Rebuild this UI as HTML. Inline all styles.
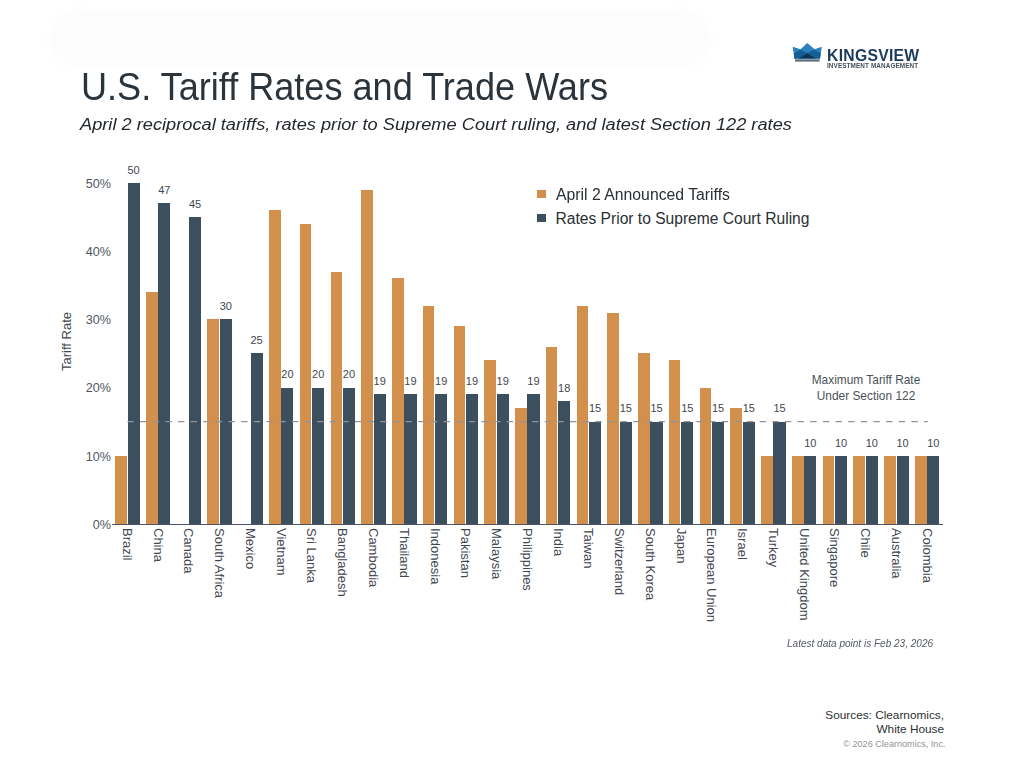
<!DOCTYPE html>
<html><head><meta charset="utf-8">
<style>
html,body{margin:0;padding:0;background:#fff;}
body{width:1024px;height:768px;position:relative;overflow:hidden;font-family:"Liberation Sans",sans-serif;}
.t{position:absolute;white-space:nowrap;line-height:1;transform-origin:0 0;}
.bar{position:absolute;}
</style></head><body>

<div style="position:absolute;left:49px;top:9px;width:662px;height:59px;background:#f9f9f9;border-radius:30px;filter:blur(3px);opacity:0.45"></div>
<div class="t" id="title" style="left:80.5px;top:67.5px;font-size:38px;color:#2b333b;transform:scaleX(0.95)">U.S. Tariff Rates and Trade Wars</div>
<div class="t" id="sub" style="left:79.5px;top:116px;font-size:17.2px;font-style:italic;color:#22282d;transform:scaleX(1.06)">April 2 reciprocal tariffs, rates prior to Supreme Court ruling, and latest Section 122 rates</div>
<svg style="position:absolute;left:788px;top:38px" width="40" height="28" viewBox="0 0 40 28">
<polygon points="4.7,8.8 12.5,11.3 19.3,5.1 26.6,11.3 33.8,8.8 32,20.7 6.4,20.7" fill="#2c80c2"/>
<polygon points="5.9,15.2 12.5,11.7 19.3,15.0 25.8,11.7 32.8,15.2 32,20.7 6.4,20.7" fill="#175e95"/>
<polygon points="19.3,15.2 28.1,20.7 10.5,20.7" fill="#0e3457"/>
<rect x="7" y="20.7" width="24.6" height="1.1" fill="#86a3b8"/>
<rect x="7" y="21.7" width="24.6" height="1.9" fill="#5f6e7c"/>
</svg>
<div class="t" style="left:826.8px;top:47px;font-size:17px;font-weight:bold;color:#1b3a5c;letter-spacing:0.3px;transform:scaleX(0.925)">KINGSVIEW</div>
<div class="t" style="left:826.8px;top:63.3px;font-size:6.6px;font-weight:bold;color:#444e59;letter-spacing:0.1px;transform:scaleX(0.967)">INVESTMENT MANAGEMENT</div>
<div class="t" style="right:913px;top:518.7px;font-size:12.6px;color:#4f5861">0%</div>
<div class="t" style="right:913px;top:450.5px;font-size:12.6px;color:#4f5861">10%</div>
<div class="t" style="right:913px;top:382.3px;font-size:12.6px;color:#4f5861">20%</div>
<div class="t" style="right:913px;top:314.0px;font-size:12.6px;color:#4f5861">30%</div>
<div class="t" style="right:913px;top:245.8px;font-size:12.6px;color:#4f5861">40%</div>
<div class="t" style="right:913px;top:177.6px;font-size:12.6px;color:#4f5861">50%</div>
<div class="t" style="left:59.5px;top:371px;font-size:13px;color:#3f474f;transform:rotate(-90deg)">Tariff Rate</div>
<div class="bar" style="left:115.20px;top:455.78px;width:11.60px;height:68.22px;background:#d3904d"></div>
<div class="bar" style="left:127.50px;top:182.90px;width:12.20px;height:341.10px;background:#3c4f5e"></div>
<div class="t" style="left:118.60px;width:30px;text-align:center;top:164.70px;font-size:11px;color:#3f474f">50</div>
<div class="t" style="left:133.90px;top:527.5px;font-size:13px;color:#3f474f;transform:rotate(90deg)">Brazil</div>
<div class="bar" style="left:145.96px;top:292.05px;width:11.60px;height:231.95px;background:#d3904d"></div>
<div class="bar" style="left:158.26px;top:203.37px;width:12.20px;height:320.63px;background:#3c4f5e"></div>
<div class="t" style="left:149.36px;width:30px;text-align:center;top:185.17px;font-size:11px;color:#3f474f">47</div>
<div class="t" style="left:164.66px;top:527.5px;font-size:13px;color:#3f474f;transform:rotate(90deg)">China</div>
<div class="bar" style="left:189.02px;top:217.01px;width:12.20px;height:306.99px;background:#3c4f5e"></div>
<div class="t" style="left:180.12px;width:30px;text-align:center;top:198.81px;font-size:11px;color:#3f474f">45</div>
<div class="t" style="left:195.42px;top:527.5px;font-size:13px;color:#3f474f;transform:rotate(90deg)">Canada</div>
<div class="bar" style="left:207.48px;top:319.34px;width:11.60px;height:204.66px;background:#d3904d"></div>
<div class="bar" style="left:219.78px;top:319.34px;width:12.20px;height:204.66px;background:#3c4f5e"></div>
<div class="t" style="left:210.88px;width:30px;text-align:center;top:301.14px;font-size:11px;color:#3f474f">30</div>
<div class="t" style="left:226.18px;top:527.5px;font-size:13px;color:#3f474f;transform:rotate(90deg)">South Africa</div>
<div class="bar" style="left:250.54px;top:353.45px;width:12.20px;height:170.55px;background:#3c4f5e"></div>
<div class="t" style="left:241.64px;width:30px;text-align:center;top:335.25px;font-size:11px;color:#3f474f">25</div>
<div class="t" style="left:256.94px;top:527.5px;font-size:13px;color:#3f474f;transform:rotate(90deg)">Mexico</div>
<div class="bar" style="left:269.00px;top:210.19px;width:11.60px;height:313.81px;background:#d3904d"></div>
<div class="bar" style="left:281.30px;top:387.56px;width:12.20px;height:136.44px;background:#3c4f5e"></div>
<div class="t" style="left:272.40px;width:30px;text-align:center;top:369.36px;font-size:11px;color:#3f474f">20</div>
<div class="t" style="left:287.70px;top:527.5px;font-size:13px;color:#3f474f;transform:rotate(90deg)">Vietnam</div>
<div class="bar" style="left:299.76px;top:223.83px;width:11.60px;height:300.17px;background:#d3904d"></div>
<div class="bar" style="left:312.06px;top:387.56px;width:12.20px;height:136.44px;background:#3c4f5e"></div>
<div class="t" style="left:303.16px;width:30px;text-align:center;top:369.36px;font-size:11px;color:#3f474f">20</div>
<div class="t" style="left:318.46px;top:527.5px;font-size:13px;color:#3f474f;transform:rotate(90deg)">Sri Lanka</div>
<div class="bar" style="left:330.52px;top:271.59px;width:11.60px;height:252.41px;background:#d3904d"></div>
<div class="bar" style="left:342.82px;top:387.56px;width:12.20px;height:136.44px;background:#3c4f5e"></div>
<div class="t" style="left:333.92px;width:30px;text-align:center;top:369.36px;font-size:11px;color:#3f474f">20</div>
<div class="t" style="left:349.22px;top:527.5px;font-size:13px;color:#3f474f;transform:rotate(90deg)">Bangladesh</div>
<div class="bar" style="left:361.28px;top:189.72px;width:11.60px;height:334.28px;background:#d3904d"></div>
<div class="bar" style="left:373.58px;top:394.38px;width:12.20px;height:129.62px;background:#3c4f5e"></div>
<div class="t" style="left:364.68px;width:30px;text-align:center;top:376.18px;font-size:11px;color:#3f474f">19</div>
<div class="t" style="left:379.98px;top:527.5px;font-size:13px;color:#3f474f;transform:rotate(90deg)">Cambodia</div>
<div class="bar" style="left:392.04px;top:278.41px;width:11.60px;height:245.59px;background:#d3904d"></div>
<div class="bar" style="left:404.34px;top:394.38px;width:12.20px;height:129.62px;background:#3c4f5e"></div>
<div class="t" style="left:395.44px;width:30px;text-align:center;top:376.18px;font-size:11px;color:#3f474f">19</div>
<div class="t" style="left:410.74px;top:527.5px;font-size:13px;color:#3f474f;transform:rotate(90deg)">Thailand</div>
<div class="bar" style="left:422.80px;top:305.70px;width:11.60px;height:218.30px;background:#d3904d"></div>
<div class="bar" style="left:435.10px;top:394.38px;width:12.20px;height:129.62px;background:#3c4f5e"></div>
<div class="t" style="left:426.20px;width:30px;text-align:center;top:376.18px;font-size:11px;color:#3f474f">19</div>
<div class="t" style="left:441.50px;top:527.5px;font-size:13px;color:#3f474f;transform:rotate(90deg)">Indonesia</div>
<div class="bar" style="left:453.56px;top:326.16px;width:11.60px;height:197.84px;background:#d3904d"></div>
<div class="bar" style="left:465.86px;top:394.38px;width:12.20px;height:129.62px;background:#3c4f5e"></div>
<div class="t" style="left:456.96px;width:30px;text-align:center;top:376.18px;font-size:11px;color:#3f474f">19</div>
<div class="t" style="left:472.26px;top:527.5px;font-size:13px;color:#3f474f;transform:rotate(90deg)">Pakistan</div>
<div class="bar" style="left:484.32px;top:360.27px;width:11.60px;height:163.73px;background:#d3904d"></div>
<div class="bar" style="left:496.62px;top:394.38px;width:12.20px;height:129.62px;background:#3c4f5e"></div>
<div class="t" style="left:487.72px;width:30px;text-align:center;top:376.18px;font-size:11px;color:#3f474f">19</div>
<div class="t" style="left:503.02px;top:527.5px;font-size:13px;color:#3f474f;transform:rotate(90deg)">Malaysia</div>
<div class="bar" style="left:515.08px;top:408.03px;width:11.60px;height:115.97px;background:#d3904d"></div>
<div class="bar" style="left:527.38px;top:394.38px;width:12.20px;height:129.62px;background:#3c4f5e"></div>
<div class="t" style="left:518.48px;width:30px;text-align:center;top:376.18px;font-size:11px;color:#3f474f">19</div>
<div class="t" style="left:533.78px;top:527.5px;font-size:13px;color:#3f474f;transform:rotate(90deg)">Philippines</div>
<div class="bar" style="left:545.84px;top:346.63px;width:11.60px;height:177.37px;background:#d3904d"></div>
<div class="bar" style="left:558.14px;top:401.20px;width:12.20px;height:122.80px;background:#3c4f5e"></div>
<div class="t" style="left:549.24px;width:30px;text-align:center;top:383.00px;font-size:11px;color:#3f474f">18</div>
<div class="t" style="left:564.54px;top:527.5px;font-size:13px;color:#3f474f;transform:rotate(90deg)">India</div>
<div class="bar" style="left:576.60px;top:305.70px;width:11.60px;height:218.30px;background:#d3904d"></div>
<div class="bar" style="left:588.90px;top:421.67px;width:12.20px;height:102.33px;background:#3c4f5e"></div>
<div class="t" style="left:580.00px;width:30px;text-align:center;top:403.47px;font-size:11px;color:#3f474f">15</div>
<div class="t" style="left:595.30px;top:527.5px;font-size:13px;color:#3f474f;transform:rotate(90deg)">Taiwan</div>
<div class="bar" style="left:607.36px;top:312.52px;width:11.60px;height:211.48px;background:#d3904d"></div>
<div class="bar" style="left:619.66px;top:421.67px;width:12.20px;height:102.33px;background:#3c4f5e"></div>
<div class="t" style="left:610.76px;width:30px;text-align:center;top:403.47px;font-size:11px;color:#3f474f">15</div>
<div class="t" style="left:626.06px;top:527.5px;font-size:13px;color:#3f474f;transform:rotate(90deg)">Switzerland</div>
<div class="bar" style="left:638.12px;top:353.45px;width:11.60px;height:170.55px;background:#d3904d"></div>
<div class="bar" style="left:650.42px;top:421.67px;width:12.20px;height:102.33px;background:#3c4f5e"></div>
<div class="t" style="left:641.52px;width:30px;text-align:center;top:403.47px;font-size:11px;color:#3f474f">15</div>
<div class="t" style="left:656.82px;top:527.5px;font-size:13px;color:#3f474f;transform:rotate(90deg)">South Korea</div>
<div class="bar" style="left:668.88px;top:360.27px;width:11.60px;height:163.73px;background:#d3904d"></div>
<div class="bar" style="left:681.18px;top:421.67px;width:12.20px;height:102.33px;background:#3c4f5e"></div>
<div class="t" style="left:672.28px;width:30px;text-align:center;top:403.47px;font-size:11px;color:#3f474f">15</div>
<div class="t" style="left:687.58px;top:527.5px;font-size:13px;color:#3f474f;transform:rotate(90deg)">Japan</div>
<div class="bar" style="left:699.64px;top:387.56px;width:11.60px;height:136.44px;background:#d3904d"></div>
<div class="bar" style="left:711.94px;top:421.67px;width:12.20px;height:102.33px;background:#3c4f5e"></div>
<div class="t" style="left:703.04px;width:30px;text-align:center;top:403.47px;font-size:11px;color:#3f474f">15</div>
<div class="t" style="left:718.34px;top:527.5px;font-size:13px;color:#3f474f;transform:rotate(90deg)">European Union</div>
<div class="bar" style="left:730.40px;top:408.03px;width:11.60px;height:115.97px;background:#d3904d"></div>
<div class="bar" style="left:742.70px;top:421.67px;width:12.20px;height:102.33px;background:#3c4f5e"></div>
<div class="t" style="left:733.80px;width:30px;text-align:center;top:403.47px;font-size:11px;color:#3f474f">15</div>
<div class="t" style="left:749.10px;top:527.5px;font-size:13px;color:#3f474f;transform:rotate(90deg)">Israel</div>
<div class="bar" style="left:761.16px;top:455.78px;width:11.60px;height:68.22px;background:#d3904d"></div>
<div class="bar" style="left:773.46px;top:421.67px;width:12.20px;height:102.33px;background:#3c4f5e"></div>
<div class="t" style="left:764.56px;width:30px;text-align:center;top:403.47px;font-size:11px;color:#3f474f">15</div>
<div class="t" style="left:779.86px;top:527.5px;font-size:13px;color:#3f474f;transform:rotate(90deg)">Turkey</div>
<div class="bar" style="left:791.92px;top:455.78px;width:11.60px;height:68.22px;background:#d3904d"></div>
<div class="bar" style="left:804.22px;top:455.78px;width:12.20px;height:68.22px;background:#3c4f5e"></div>
<div class="t" style="left:795.32px;width:30px;text-align:center;top:437.58px;font-size:11px;color:#3f474f">10</div>
<div class="t" style="left:810.62px;top:527.5px;font-size:13px;color:#3f474f;transform:rotate(90deg)">United Kingdom</div>
<div class="bar" style="left:822.68px;top:455.78px;width:11.60px;height:68.22px;background:#d3904d"></div>
<div class="bar" style="left:834.98px;top:455.78px;width:12.20px;height:68.22px;background:#3c4f5e"></div>
<div class="t" style="left:826.08px;width:30px;text-align:center;top:437.58px;font-size:11px;color:#3f474f">10</div>
<div class="t" style="left:841.38px;top:527.5px;font-size:13px;color:#3f474f;transform:rotate(90deg)">Singapore</div>
<div class="bar" style="left:853.44px;top:455.78px;width:11.60px;height:68.22px;background:#d3904d"></div>
<div class="bar" style="left:865.74px;top:455.78px;width:12.20px;height:68.22px;background:#3c4f5e"></div>
<div class="t" style="left:856.84px;width:30px;text-align:center;top:437.58px;font-size:11px;color:#3f474f">10</div>
<div class="t" style="left:872.14px;top:527.5px;font-size:13px;color:#3f474f;transform:rotate(90deg)">Chile</div>
<div class="bar" style="left:884.20px;top:455.78px;width:11.60px;height:68.22px;background:#d3904d"></div>
<div class="bar" style="left:896.50px;top:455.78px;width:12.20px;height:68.22px;background:#3c4f5e"></div>
<div class="t" style="left:887.60px;width:30px;text-align:center;top:437.58px;font-size:11px;color:#3f474f">10</div>
<div class="t" style="left:902.90px;top:527.5px;font-size:13px;color:#3f474f;transform:rotate(90deg)">Australia</div>
<div class="bar" style="left:914.96px;top:455.78px;width:11.60px;height:68.22px;background:#d3904d"></div>
<div class="bar" style="left:927.26px;top:455.78px;width:12.20px;height:68.22px;background:#3c4f5e"></div>
<div class="t" style="left:918.36px;width:30px;text-align:center;top:437.58px;font-size:11px;color:#3f474f">10</div>
<div class="t" style="left:933.66px;top:527.5px;font-size:13px;color:#3f474f;transform:rotate(90deg)">Colombia</div>
<div style="position:absolute;left:112px;top:523.65px;width:831px;height:1.5px;background:#4b5560"></div>
<svg style="position:absolute;left:0;top:0" width="1024" height="768"><line x1="127.4" y1="421.67" x2="927.8" y2="421.67" stroke="#8d959b" stroke-width="1.35" stroke-dasharray="6.4,6.245"/></svg>
<div style="position:absolute;left:537.3px;top:189.7px;width:8.5px;height:8px;background:#d3904d"></div>
<div style="position:absolute;left:537.3px;top:214.2px;width:8.5px;height:8px;background:#3c4f5e"></div>
<div class="t" style="left:555.5px;top:186.5px;font-size:15.6px;color:#2a2f33;transform:scaleX(1.012)">April 2 Announced Tariffs</div>
<div class="t" style="left:555.5px;top:210.8px;font-size:15.6px;color:#2a2f33;transform:scaleX(1.0)">Rates Prior to Supreme Court Ruling</div>
<div class="t" style="left:811px;top:371.5px;font-size:11.9px;color:#4b5158;text-align:center;width:110px;line-height:16px">Maximum Tariff Rate<br>Under Section 122</div>
<div class="t" style="left:786.5px;top:638px;font-size:10.5px;font-style:italic;color:#555b61;transform:scaleX(0.955)">Latest data point is Feb 23, 2026</div>
<div class="t" style="right:80px;top:708px;font-size:11.8px;color:#2a2f33;text-align:right;line-height:14.2px">Sources: Clearnomics,<br>White House</div>
<div class="t" style="right:78.5px;top:740px;font-size:9.1px;color:#8f9499">© 2026 Clearnomics, Inc.</div>
</body></html>
